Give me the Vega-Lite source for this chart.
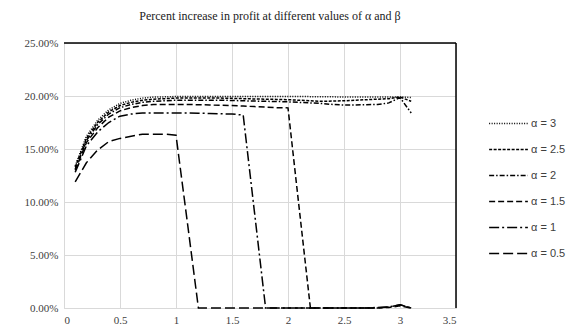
{
  "$schema": "https://vega.github.io/schema/vega-lite/v6.json",
  "width": 392,
  "height": 265,
  "autosize": "none",
  "padding": {"left": 64, "top": 43, "right": 111, "bottom": 21},
  "background": "white",
  "title": {"text": "Percent increase in profit at different values of α and β", "font": "Liberation Serif", "fontSize": 12, "fontWeight": "normal", "color": "#222222", "anchor": "middle", "dx": 10, "offset": 14},
  "config": {
    "view": {"stroke": null},
    "axis": {"domainColor": "#d9d9d9", "gridColor": "#d9d9d9", "ticks": false, "labelFont": "Liberation Serif", "labelFontSize": 11, "labelColor": "#404040", "title": null, "labelPadding": 6}
  },
  "datasets": {
    "d": [
      {"x":0.1,"v":0.134,"s":"α = 3"},{"x":0.2,"v":0.162,"s":"α = 3"},{"x":0.3,"v":0.177,"s":"α = 3"},{"x":0.4,"v":0.187,"s":"α = 3"},{"x":0.5,"v":0.193,"s":"α = 3"},{"x":0.6,"v":0.196,"s":"α = 3"},{"x":0.7,"v":0.198,"s":"α = 3"},{"x":0.8,"v":0.199,"s":"α = 3"},{"x":0.9,"v":0.1992,"s":"α = 3"},{"x":1.0,"v":0.1995,"s":"α = 3"},{"x":1.1,"v":0.1995,"s":"α = 3"},{"x":1.2,"v":0.1996,"s":"α = 3"},{"x":1.3,"v":0.1996,"s":"α = 3"},{"x":1.4,"v":0.1996,"s":"α = 3"},{"x":1.5,"v":0.1996,"s":"α = 3"},{"x":1.6,"v":0.1996,"s":"α = 3"},{"x":1.7,"v":0.1996,"s":"α = 3"},{"x":1.8,"v":0.1996,"s":"α = 3"},{"x":1.9,"v":0.1996,"s":"α = 3"},{"x":2.0,"v":0.1996,"s":"α = 3"},{"x":2.1,"v":0.1995,"s":"α = 3"},{"x":2.2,"v":0.1994,"s":"α = 3"},{"x":2.3,"v":0.1993,"s":"α = 3"},{"x":2.4,"v":0.1992,"s":"α = 3"},{"x":2.5,"v":0.1991,"s":"α = 3"},{"x":2.6,"v":0.199,"s":"α = 3"},{"x":2.7,"v":0.199,"s":"α = 3"},{"x":2.8,"v":0.199,"s":"α = 3"},{"x":2.9,"v":0.199,"s":"α = 3"},{"x":3.0,"v":0.1992,"s":"α = 3"},{"x":3.1,"v":0.1985,"s":"α = 3"},
      {"x":0.1,"v":0.133,"s":"α = 2.5"},{"x":0.2,"v":0.16,"s":"α = 2.5"},{"x":0.3,"v":0.175,"s":"α = 2.5"},{"x":0.4,"v":0.185,"s":"α = 2.5"},{"x":0.5,"v":0.191,"s":"α = 2.5"},{"x":0.6,"v":0.194,"s":"α = 2.5"},{"x":0.7,"v":0.196,"s":"α = 2.5"},{"x":0.8,"v":0.197,"s":"α = 2.5"},{"x":0.9,"v":0.1975,"s":"α = 2.5"},{"x":1.0,"v":0.198,"s":"α = 2.5"},{"x":1.1,"v":0.198,"s":"α = 2.5"},{"x":1.2,"v":0.198,"s":"α = 2.5"},{"x":1.3,"v":0.198,"s":"α = 2.5"},{"x":1.4,"v":0.198,"s":"α = 2.5"},{"x":1.5,"v":0.1978,"s":"α = 2.5"},{"x":1.6,"v":0.1975,"s":"α = 2.5"},{"x":1.7,"v":0.1972,"s":"α = 2.5"},{"x":1.8,"v":0.197,"s":"α = 2.5"},{"x":1.9,"v":0.1968,"s":"α = 2.5"},{"x":2.0,"v":0.1965,"s":"α = 2.5"},{"x":2.1,"v":0.196,"s":"α = 2.5"},{"x":2.2,"v":0.1955,"s":"α = 2.5"},{"x":2.3,"v":0.195,"s":"α = 2.5"},{"x":2.4,"v":0.1952,"s":"α = 2.5"},{"x":2.5,"v":0.1955,"s":"α = 2.5"},{"x":2.6,"v":0.196,"s":"α = 2.5"},{"x":2.7,"v":0.1965,"s":"α = 2.5"},{"x":2.8,"v":0.197,"s":"α = 2.5"},{"x":2.9,"v":0.1975,"s":"α = 2.5"},{"x":3.0,"v":0.199,"s":"α = 2.5"},{"x":3.1,"v":0.195,"s":"α = 2.5"},
      {"x":0.1,"v":0.131,"s":"α = 2"},{"x":0.2,"v":0.158,"s":"α = 2"},{"x":0.3,"v":0.173,"s":"α = 2"},{"x":0.4,"v":0.183,"s":"α = 2"},{"x":0.5,"v":0.189,"s":"α = 2"},{"x":0.6,"v":0.192,"s":"α = 2"},{"x":0.7,"v":0.194,"s":"α = 2"},{"x":0.8,"v":0.195,"s":"α = 2"},{"x":0.9,"v":0.1955,"s":"α = 2"},{"x":1.0,"v":0.196,"s":"α = 2"},{"x":1.1,"v":0.196,"s":"α = 2"},{"x":1.2,"v":0.196,"s":"α = 2"},{"x":1.3,"v":0.196,"s":"α = 2"},{"x":1.4,"v":0.196,"s":"α = 2"},{"x":1.5,"v":0.1958,"s":"α = 2"},{"x":1.6,"v":0.1955,"s":"α = 2"},{"x":1.7,"v":0.1952,"s":"α = 2"},{"x":1.8,"v":0.195,"s":"α = 2"},{"x":1.9,"v":0.1948,"s":"α = 2"},{"x":2.0,"v":0.1945,"s":"α = 2"},{"x":2.1,"v":0.194,"s":"α = 2"},{"x":2.2,"v":0.1935,"s":"α = 2"},{"x":2.3,"v":0.193,"s":"α = 2"},{"x":2.4,"v":0.192,"s":"α = 2"},{"x":2.5,"v":0.1915,"s":"α = 2"},{"x":2.6,"v":0.1915,"s":"α = 2"},{"x":2.7,"v":0.1918,"s":"α = 2"},{"x":2.8,"v":0.192,"s":"α = 2"},{"x":2.9,"v":0.1935,"s":"α = 2"},{"x":3.0,"v":0.1985,"s":"α = 2"},{"x":3.1,"v":0.184,"s":"α = 2"},
      {"x":0.1,"v":0.13,"s":"α = 1.5"},{"x":0.2,"v":0.156,"s":"α = 1.5"},{"x":0.3,"v":0.17,"s":"α = 1.5"},{"x":0.4,"v":0.18,"s":"α = 1.5"},{"x":0.5,"v":0.186,"s":"α = 1.5"},{"x":0.6,"v":0.189,"s":"α = 1.5"},{"x":0.7,"v":0.191,"s":"α = 1.5"},{"x":0.8,"v":0.192,"s":"α = 1.5"},{"x":0.9,"v":0.192,"s":"α = 1.5"},{"x":1.0,"v":0.192,"s":"α = 1.5"},{"x":1.1,"v":0.192,"s":"α = 1.5"},{"x":1.2,"v":0.1918,"s":"α = 1.5"},{"x":1.3,"v":0.1915,"s":"α = 1.5"},{"x":1.4,"v":0.1912,"s":"α = 1.5"},{"x":1.5,"v":0.191,"s":"α = 1.5"},{"x":1.6,"v":0.1905,"s":"α = 1.5"},{"x":1.7,"v":0.19,"s":"α = 1.5"},{"x":1.8,"v":0.1895,"s":"α = 1.5"},{"x":1.9,"v":0.189,"s":"α = 1.5"},{"x":2.0,"v":0.1888,"s":"α = 1.5"},{"x":2.1,"v":0.094,"s":"α = 1.5"},{"x":2.2,"v":0,"s":"α = 1.5"},{"x":2.3,"v":0,"s":"α = 1.5"},{"x":2.4,"v":0,"s":"α = 1.5"},{"x":2.5,"v":0,"s":"α = 1.5"},{"x":2.6,"v":0,"s":"α = 1.5"},{"x":2.7,"v":0,"s":"α = 1.5"},{"x":2.8,"v":0,"s":"α = 1.5"},{"x":2.9,"v":0.0005,"s":"α = 1.5"},{"x":3.0,"v":0.002,"s":"α = 1.5"},{"x":3.1,"v":0,"s":"α = 1.5"},
      {"x":0.1,"v":0.128,"s":"α = 1"},{"x":0.2,"v":0.153,"s":"α = 1"},{"x":0.3,"v":0.166,"s":"α = 1"},{"x":0.4,"v":0.175,"s":"α = 1"},{"x":0.5,"v":0.181,"s":"α = 1"},{"x":0.6,"v":0.183,"s":"α = 1"},{"x":0.7,"v":0.184,"s":"α = 1"},{"x":0.8,"v":0.184,"s":"α = 1"},{"x":0.9,"v":0.184,"s":"α = 1"},{"x":1.0,"v":0.184,"s":"α = 1"},{"x":1.1,"v":0.184,"s":"α = 1"},{"x":1.2,"v":0.1838,"s":"α = 1"},{"x":1.3,"v":0.1835,"s":"α = 1"},{"x":1.4,"v":0.1832,"s":"α = 1"},{"x":1.5,"v":0.183,"s":"α = 1"},{"x":1.6,"v":0.182,"s":"α = 1"},{"x":1.7,"v":0.091,"s":"α = 1"},{"x":1.8,"v":0,"s":"α = 1"},{"x":1.9,"v":0,"s":"α = 1"},{"x":2.0,"v":0,"s":"α = 1"},{"x":2.1,"v":0,"s":"α = 1"},{"x":2.2,"v":0,"s":"α = 1"},{"x":2.3,"v":0,"s":"α = 1"},{"x":2.4,"v":0,"s":"α = 1"},{"x":2.5,"v":0,"s":"α = 1"},{"x":2.6,"v":0,"s":"α = 1"},{"x":2.7,"v":0,"s":"α = 1"},{"x":2.8,"v":0.0005,"s":"α = 1"},{"x":2.9,"v":0.001,"s":"α = 1"},{"x":3.0,"v":0.003,"s":"α = 1"},{"x":3.1,"v":0,"s":"α = 1"},
      {"x":0.1,"v":0.119,"s":"α = 0.5"},{"x":0.2,"v":0.137,"s":"α = 0.5"},{"x":0.3,"v":0.149,"s":"α = 0.5"},{"x":0.4,"v":0.157,"s":"α = 0.5"},{"x":0.5,"v":0.16,"s":"α = 0.5"},{"x":0.6,"v":0.162,"s":"α = 0.5"},{"x":0.7,"v":0.164,"s":"α = 0.5"},{"x":0.8,"v":0.164,"s":"α = 0.5"},{"x":0.9,"v":0.164,"s":"α = 0.5"},{"x":1.0,"v":0.163,"s":"α = 0.5"},{"x":1.1,"v":0.082,"s":"α = 0.5"},{"x":1.2,"v":0,"s":"α = 0.5"},{"x":1.3,"v":0,"s":"α = 0.5"},{"x":1.4,"v":0,"s":"α = 0.5"},{"x":1.5,"v":0,"s":"α = 0.5"},{"x":1.6,"v":0,"s":"α = 0.5"},{"x":1.7,"v":0,"s":"α = 0.5"},{"x":1.8,"v":0,"s":"α = 0.5"},{"x":1.9,"v":0,"s":"α = 0.5"},{"x":2.0,"v":0,"s":"α = 0.5"},{"x":2.1,"v":0,"s":"α = 0.5"},{"x":2.2,"v":0,"s":"α = 0.5"},{"x":2.3,"v":0,"s":"α = 0.5"},{"x":2.4,"v":0,"s":"α = 0.5"},{"x":2.5,"v":0,"s":"α = 0.5"},{"x":2.6,"v":0,"s":"α = 0.5"},{"x":2.7,"v":0,"s":"α = 0.5"},{"x":2.8,"v":0,"s":"α = 0.5"},{"x":2.9,"v":0.001,"s":"α = 0.5"},{"x":3.0,"v":0.003,"s":"α = 0.5"},{"x":3.1,"v":0,"s":"α = 0.5"}
    ]
  },
  "layer": [
    {
      "data": {"name": "d"},
      "mark": {"type": "line", "color": "black", "strokeWidth": 1.5},
      "encoding": {
        "x": {"field": "x", "type": "quantitative", "scale": {"domain": [0, 3.5], "nice": false}, "axis": {"values": [0, 0.5, 1, 1.5, 2, 2.5, 3, 3.5], "format": "~g", "grid": true}},
        "y": {"field": "v", "type": "quantitative", "scale": {"domain": [0, 0.25], "nice": false}, "axis": {"values": [0, 0.05, 0.1, 0.15, 0.2, 0.25], "format": ".2%", "grid": true}},
        "strokeDash": {
          "field": "s", "type": "nominal",
          "scale": {"domain": ["α = 3", "α = 2.5", "α = 2", "α = 1.5", "α = 1", "α = 0.5"], "range": [[1, 1.5], [3, 1.5], [5, 2, 1.5, 2], [6, 3], [10, 3, 2, 3], [10, 4]]},
          "legend": {"orient": "none", "legendX": 424, "legendY": 60, "title": null, "symbolType": "stroke", "symbolSize": 1500, "symbolStrokeWidth": 1.5, "symbolStrokeColor": "black", "labelFont": "Liberation Sans", "labelFontSize": 11, "labelColor": "#404040", "rowPadding": -2, "labelOffset": 2}
        }
      }
    },
    {
      "data": {"values": [{}]},
      "mark": {"type": "rule", "color": "black", "strokeWidth": 1.5},
      "encoding": {"y": {"datum": 0.25, "type": "quantitative"}}
    },
    {
      "data": {"values": [{}]},
      "mark": {"type": "rule", "color": "black", "strokeWidth": 1.5},
      "encoding": {"x": {"datum": 3.5, "type": "quantitative"}}
    }
  ]
}
